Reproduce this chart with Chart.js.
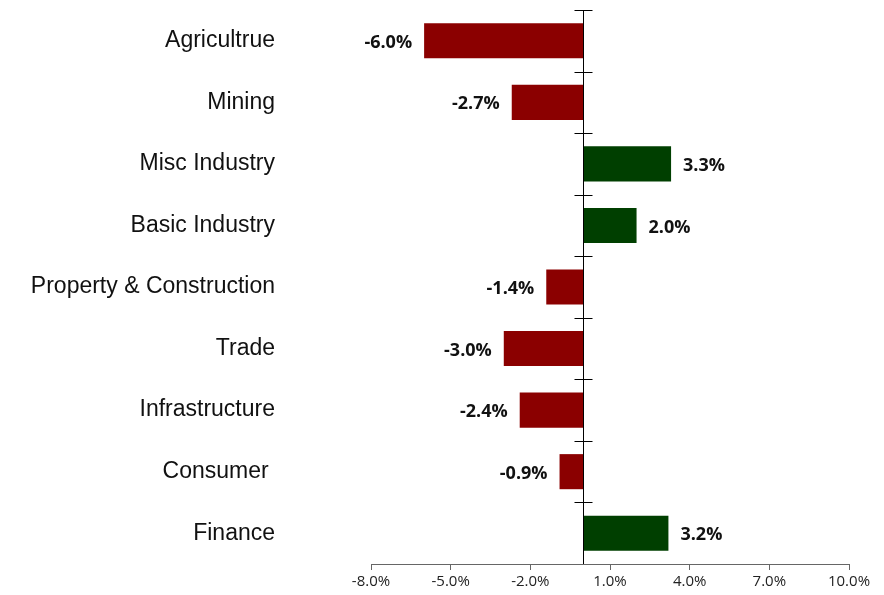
<!DOCTYPE html>
<html>
<head>
<meta charset="utf-8">
<script src="https://cdn.jsdelivr.net/npm/chart.js@4.4.0/dist/chart.umd.min.js"></script>
<style>
  html, body { margin: 0; padding: 0; background: #fff; }
  #wrap { width: 884px; height: 595px; position: relative; }
</style>
</head>
<body>
<div id="wrap"><canvas id="chart"></canvas></div>
<script>
// sector returns (%)
const sectors = ['Agricultrue', 'Mining', 'Misc Industry', 'Basic Industry', 'Property & Construction', 'Trade', 'Infrastructure', 'Consumer ', 'Finance'];
const returns = [-6.0, -2.7, 3.3, 2.0, -1.4, -3.0, -2.4, -0.9, 3.2];
const xTicks = [-8, -5, -2, 1, 4, 7, 10];

const RED = '#8b0000';
const GREEN = '#003f00';

// zero line with category tick marks crossing it, plus bar value labels
const zeroAxis = {
  id: 'zeroAxis',
  afterDatasetsDraw(chart) {
    const { ctx, chartArea, scales } = chart;
    const x0 = Math.round(scales.x.getPixelForValue(0)) + 0.5;
    ctx.save();
    ctx.strokeStyle = '#000';
    ctx.lineWidth = 1;
    ctx.beginPath();
    ctx.moveTo(x0, chartArea.top);
    ctx.lineTo(x0, chartArea.bottom);
    for (let i = 0; i < sectors.length; i++) {
      const y = Math.round(scales.y.getPixelForValue(i - 0.5)) + 0.5;
      ctx.moveTo(x0 - 9, y);
      ctx.lineTo(x0 + 9, y);
    }
    ctx.stroke();

    ctx.font = 'bold 18px "Open Sans"';
    ctx.fillStyle = '#111';
    ctx.textBaseline = 'middle';
    chart.getDatasetMeta(0).data.forEach((bar, i) => {
      const v = returns[i];
      const txt = v.toFixed(1) + '%';
      if (v < 0) {
        ctx.textAlign = 'right';
        ctx.fillText(txt, bar.x - 12, bar.y + 2);
      } else {
        ctx.textAlign = 'left';
        ctx.fillText(txt, bar.x + 12, bar.y + 2);
      }
    });
    ctx.restore();
  }
};

new Chart(document.getElementById('chart'), {
  type: 'bar',
  data: {
    labels: sectors,
    datasets: [{
      data: returns,
      backgroundColor: returns.map(v => v < 0 ? RED : GREEN),
      borderWidth: 0,
      barPercentage: 0.57,
      categoryPercentage: 1.0,
    }],
  },
  options: {
    indexAxis: 'y',
    responsive: true,
    maintainAspectRatio: false,
    animation: false,
    layout: { padding: { top: 10, right: 35, left: 0, bottom: 0 } },
    plugins: {
      legend: { display: false },
      tooltip: { enabled: false },
    },
    scales: {
      x: {
        min: -8,
        max: 10,
        afterBuildTicks: (scale) => { scale.ticks = xTicks.map(v => ({ value: v })); },
        afterFit: (scale) => { scale.height = 31; },
        grid: { drawOnChartArea: false, tickLength: 6, color: '#666' },
        border: { color: '#666' },
        ticks: {
          padding: 3,
          color: '#222',
          font: { family: '"Open Sans"', size: 15 },
          callback: (v) => v.toFixed(1) + '%',
        },
      },
      y: {
        afterFit: (scale) => {
          scale.width = 371;
          // tick padding would otherwise push the plot down
          scale.paddingTop = 0;
          scale.paddingBottom = 0;
        },
        grid: { display: false },
        border: { display: false },
        ticks: {
          padding: 88,
          color: '#111',
          font: { family: '"Liberation Sans", Arial', size: 23 },
        },
      },
    },
  },
  plugins: [zeroAxis],
});
</script>
</body>
</html>
